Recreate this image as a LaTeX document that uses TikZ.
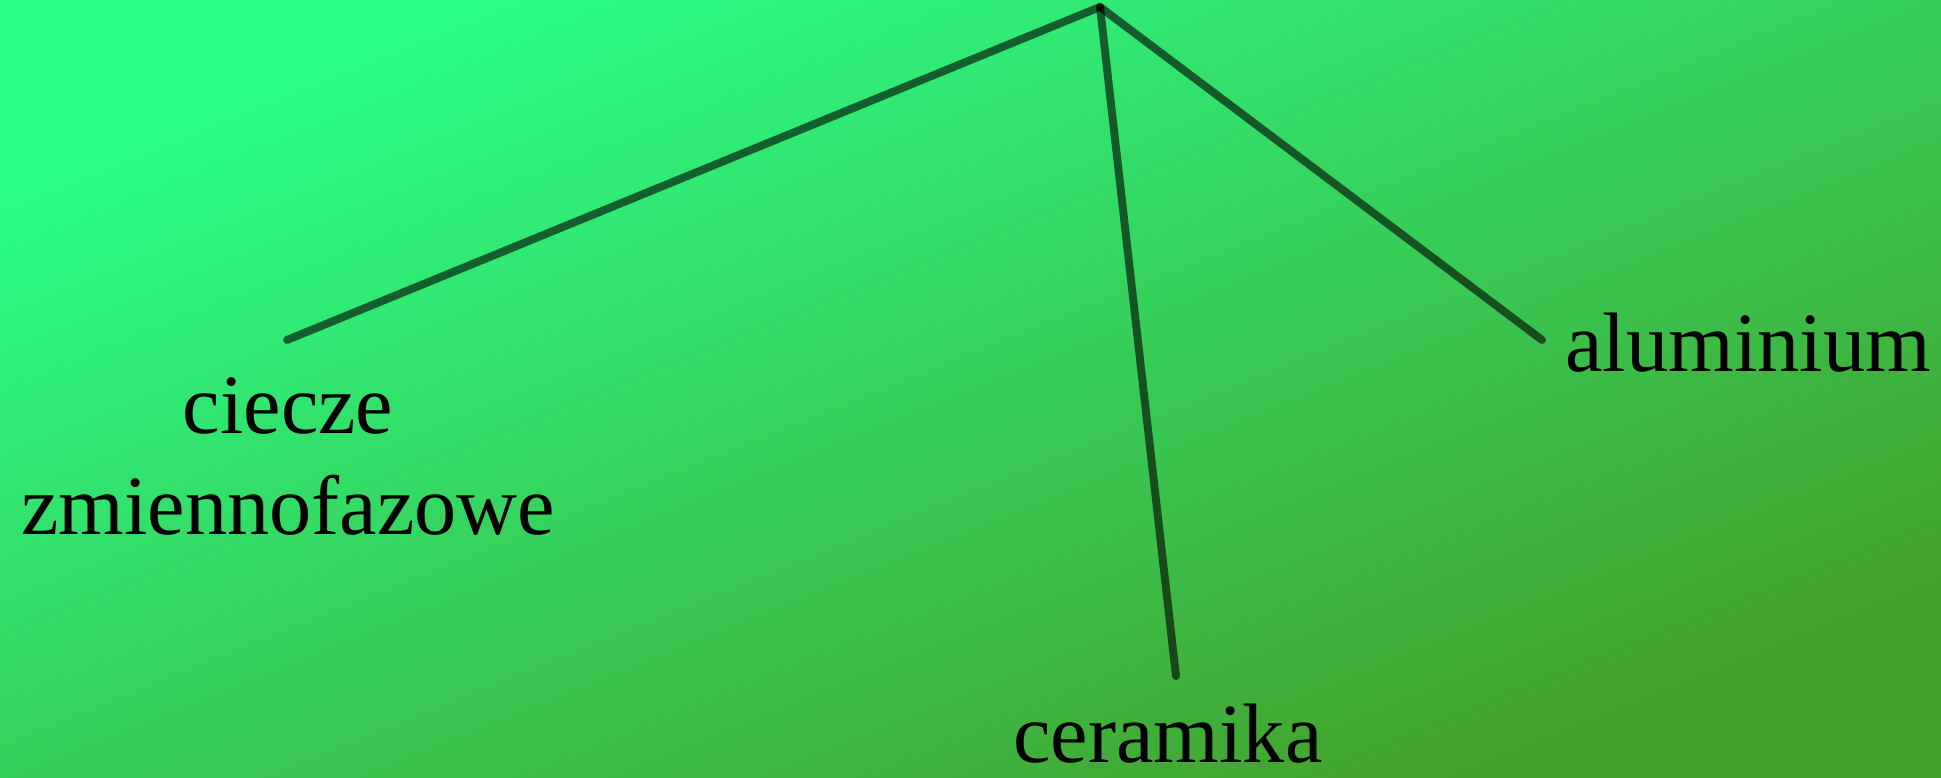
\documentclass[tikz,border=0pt]{standalone}
\usepackage{fontspec}
\setmainfont{Liberation Serif}
\usetikzlibrary{positioning}
\definecolor{bgtop}{HTML}{2AFF8A}
\definecolor{bgmid}{HTML}{33D45E}
\definecolor{bgbot}{HTML}{43A02A}

\begin{document}
\begin{tikzpicture}[
  font=\fontsize{48}{58}\selectfont,
  branch/.style={line width=4.5pt,draw=black,draw opacity=0.6,line cap=round},
  leaf/.style={inner sep=0pt,align=center,text=black}
]
% background, bright in the top left corner
\shade[top color=bgtop,middle color=bgmid,bottom color=bgbot,shading angle=22]
  (0,0) rectangle (38.82,15.56);
\useasboundingbox (0,0) rectangle (38.82,15.56);

\coordinate (root) at (22.0,15.42);
\coordinate (pcmend) at (5.74,8.76);
\coordinate (ceramend) at (23.52,2.04);
\coordinate (aluend) at (30.84,8.76);

\node[leaf,anchor=base] (pcm) at (5.76,4.86) {ciecze\\zmiennofazowe};
\node[leaf,anchor=base] (ceram) at (23.36,0.30) {ceramika};
\node[leaf,anchor=base west] (alu) at (31.30,8.12) {aluminium};

\draw[branch] (root) -- (pcmend);
\draw[branch] (root) -- (ceramend);
\draw[branch] (root) -- (aluend);
\end{tikzpicture}
\end{document}
